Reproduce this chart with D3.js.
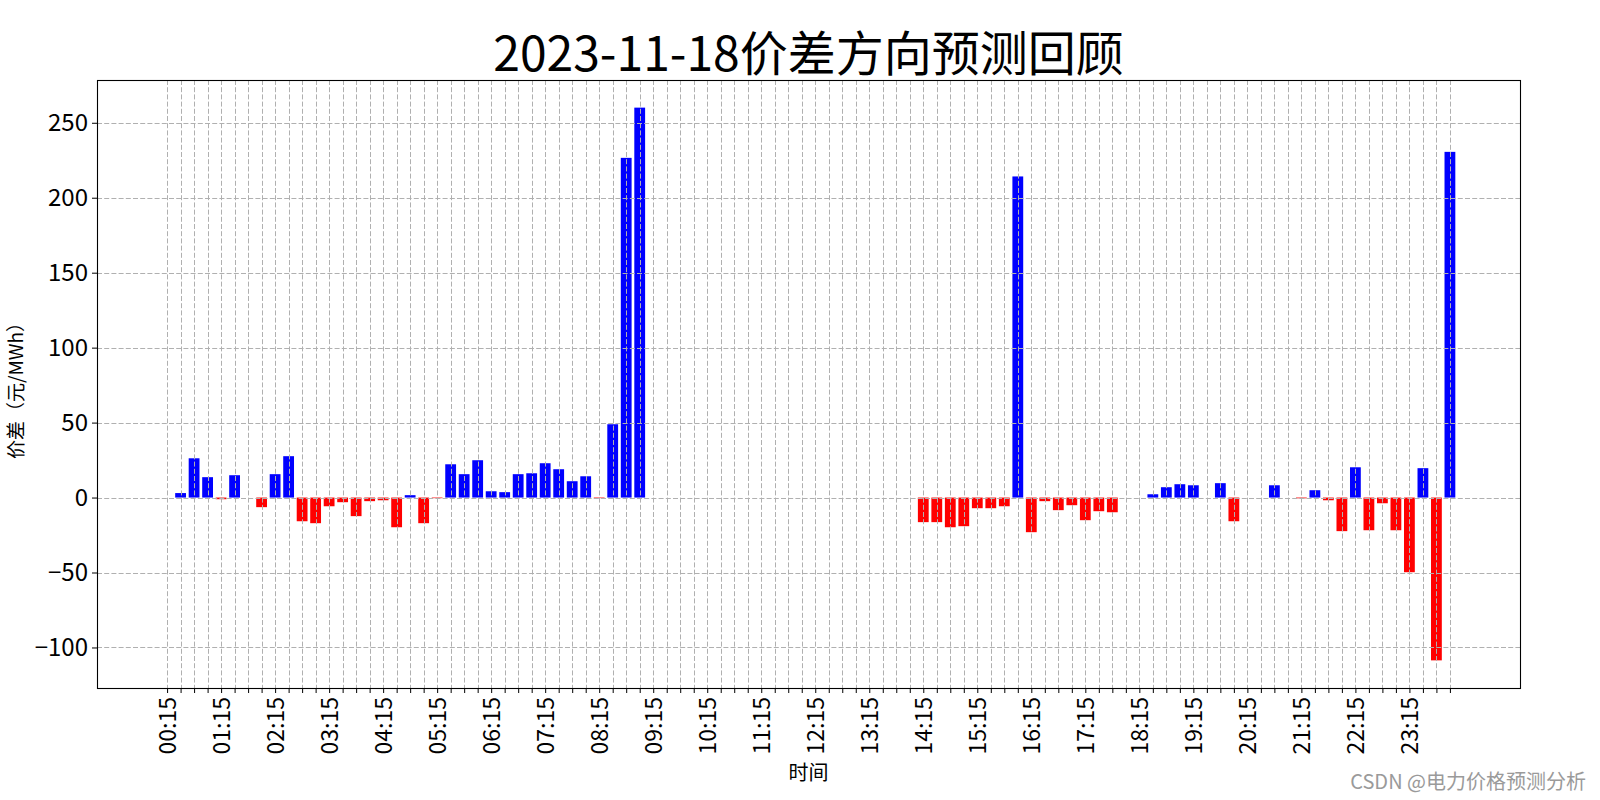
<!DOCTYPE html>
<html>
<head>
<meta charset="utf-8">
<script src="https://cdn.jsdelivr.net/npm/d3@7/dist/d3.min.js"></script>
<style>
  html, body { margin: 0; padding: 0; background: #fff; }
  svg { display: block; }
  text { font-family: "Noto Sans CJK SC", "Noto Sans", sans-serif; }
</style>
</head>
<body>
<svg id="chart" width="1600" height="800"></svg>
<script>
// ---------------- data ----------------
const titleText = "2023-11-18价差方向预测回顾";
const yLabelText = "价差（元/MWh）";
const xLabelText = "时间";
const watermarkText = "CSDN @电力价格预测分析";

const categories = [
  "00:15","00:30","00:45","01:00","01:15","01:30","01:45","02:00",
  "02:15","02:30","02:45","03:00","03:15","03:30","03:45","04:00",
  "04:15","04:30","04:45","05:00","05:15","05:30","05:45","06:00",
  "06:15","06:30","06:45","07:00","07:15","07:30","07:45","08:00",
  "08:15","08:30","08:45","09:00","09:15","09:30","09:45","10:00",
  "10:15","10:30","10:45","11:00","11:15","11:30","11:45","12:00",
  "12:15","12:30","12:45","13:00","13:15","13:30","13:45","14:00",
  "14:15","14:30","14:45","15:00","15:15","15:30","15:45","16:00",
  "16:15","16:30","16:45","17:00","17:15","17:30","17:45","18:00",
  "18:15","18:30","18:45","19:00","19:15","19:30","19:45","20:00",
  "20:15","20:30","20:45","21:00","21:15","21:30","21:45","22:00",
  "22:15","22:30","22:45","23:00","23:15","23:30","23:45","24:00"
];

const priceDiff = [
  0, 3, 26.2, 13.6, -1.1, 14.9, 0, -6.4,
  15.6, 27.6, -15.8, -17.1, -5.8, -3.1, -12.4, -2.4,
  -1.8, -19.8, 1.6, -17.1, -0.4, 22.2, 15.6, 24.9,
  4.2, 3.6, 15.6, 16.2, 22.9, 18.9, 10.9, 14.2,
  -0.4, 48.9, 226.6, 260.1, 0, 0, 0, 0,
  0, 0, 0, 0, 0, 0, 0, 0,
  0, 0, 0, 0, 0, 0, 0, 0,
  -16.4, -16.4, -19.8, -19.1, -7.1, -7.1, -5.8, 214.2,
  -23.1, -2.4, -8.4, -5.1, -15.1, -9.1, -9.8, 0,
  0, 2.2, 6.9, 8.9, 8.2, 0, 9.6, -15.8,
  0, 0, 8.2, 0, -0.5, 4.9, -1.8, -22.4,
  20.2, -21.8, -3.8, -21.8, -49.8, 19.6, -108.6, 230.6
];

const xTickLabels = [
  "00:15","01:15","02:15","03:15","04:15","05:15","06:15","07:15",
  "08:15","09:15","10:15","11:15","12:15","13:15","14:15","15:15",
  "16:15","17:15","18:15","19:15","20:15","21:15","22:15","23:15"
];
const yTicks = [-100, -50, 0, 50, 100, 150, 200, 250];

const posColor = "#0000ff";
const negColor = "#ff0000";

// ---------------- layout ----------------
const plot = { left: 97, right: 1520, top: 80, bottom: 688 };
const barWidth = 0.8;
const svg = d3.select("#chart");

// x: index-based linear scale with matplotlib-like 5% margins
const n = categories.length;
const xLo = -barWidth / 2, xHi = (n - 1) + barWidth / 2;
const xPad = (xHi - xLo) * 0.05;
const x = d3.scaleLinear().domain([xLo - xPad, xHi + xPad]).range([plot.left, plot.right]);

const yMin = d3.min(priceDiff), yMax = d3.max(priceDiff);
const yPad = (yMax - yMin) * 0.05;
const y = d3.scaleLinear().domain([yMin - yPad, yMax + yPad]).range([plot.bottom, plot.top]);

// ---------------- bars ----------------
const gBars = svg.append("g");
gBars.selectAll("rect")
  .data(priceDiff)
  .join("rect")
  .attr("x", (d, i) => x(i - barWidth / 2))
  .attr("width", (d, i) => x(i + barWidth / 2) - x(i - barWidth / 2))
  .attr("y", d => y(Math.max(0, d)))
  .attr("height", d => Math.abs(y(d) - y(0)))
  .attr("fill", d => d >= 0 ? posColor : negColor);

// ---------------- grid (drawn above bars, as in matplotlib) ----------------
const gGrid = svg.append("g")
  .attr("stroke", "#b0b0b0")
  .attr("stroke-width", 1)
  .attr("stroke-dasharray", "5,2.2")
  .attr("fill", "none");
gGrid.selectAll("line.v")
  .data(categories)
  .join("line")
  .attr("class", "v")
  .attr("x1", (c, i) => Math.round(x(i)) + 0.5)
  .attr("x2", (c, i) => Math.round(x(i)) + 0.5)
  .attr("y1", plot.top)
  .attr("y2", plot.bottom);
gGrid.selectAll("line.h")
  .data(yTicks)
  .join("line")
  .attr("class", "h")
  .attr("x1", plot.left)
  .attr("x2", plot.right)
  .attr("y1", d => Math.round(y(d)) + 0.5)
  .attr("y2", d => Math.round(y(d)) + 0.5);

// ---------------- axes ----------------
const fmt = d => (d < 0 ? "\u2212" + Math.abs(d) : String(d));

const yAxis = d3.axisLeft(y).tickValues(yTicks).tickFormat(fmt).tickSize(5).tickPadding(4);
const gy = svg.append("g").attr("transform", `translate(${plot.left},0)`).call(yAxis);
gy.select(".domain").remove();
gy.selectAll(".tick line").attr("stroke", "#000").attr("stroke-width", 1);
gy.selectAll(".tick text")
  .attr("font-size", "24px")
  .attr("fill", "#000")
  .style("font-family", '"Noto Sans CJK SC", sans-serif');

const xAxis = d3.axisBottom(x)
  .tickValues(d3.range(n))
  .tickSize(5)
  .tickFormat(i => xTickLabels.includes(categories[i]) ? categories[i] : "");
const gx = svg.append("g").attr("transform", `translate(0,${plot.bottom})`).call(xAxis);
gx.select(".domain").remove();
gx.selectAll(".tick line").attr("stroke", "#000").attr("stroke-width", 1);
gx.selectAll(".tick text")
  .attr("font-size", "23px")
  .attr("fill", "#000")
  .attr("text-anchor", "end")
  .attr("transform", "rotate(-90)")
  .attr("x", -9)
  .attr("y", 0)
  .attr("dy", "0.35em")
  .style("font-family", '"Noto Sans CJK SC", sans-serif');

// frame
svg.append("rect")
  .attr("x", plot.left + 0.5)
  .attr("y", plot.top + 0.5)
  .attr("width", plot.right - plot.left)
  .attr("height", plot.bottom - plot.top)
  .attr("fill", "none")
  .attr("stroke", "#000")
  .attr("stroke-width", 1.1);

// ---------------- texts ----------------
svg.append("text")
  .attr("x", (plot.left + plot.right) / 2)
  .attr("y", 71)
  .attr("text-anchor", "middle")
  .attr("font-size", "48px")
  .attr("fill", "#000")
  .text(titleText);

svg.append("text")
  .attr("transform", `translate(23,${(plot.top + plot.bottom) / 2 + 2}) rotate(-90)`)
  .attr("text-anchor", "middle")
  .attr("font-size", "19px")
  .attr("fill", "#000")
  .text(yLabelText);

svg.append("text")
  .attr("x", (plot.left + plot.right) / 2)
  .attr("y", 780)
  .attr("text-anchor", "middle")
  .attr("font-size", "20px")
  .attr("fill", "#000")
  .text(xLabelText);

svg.append("text")
  .attr("x", 1586)
  .attr("y", 789)
  .attr("text-anchor", "end")
  .attr("font-size", "20px")
  .attr("fill", "#9a9a9a")
  .text(watermarkText);
</script>
</body>
</html>
